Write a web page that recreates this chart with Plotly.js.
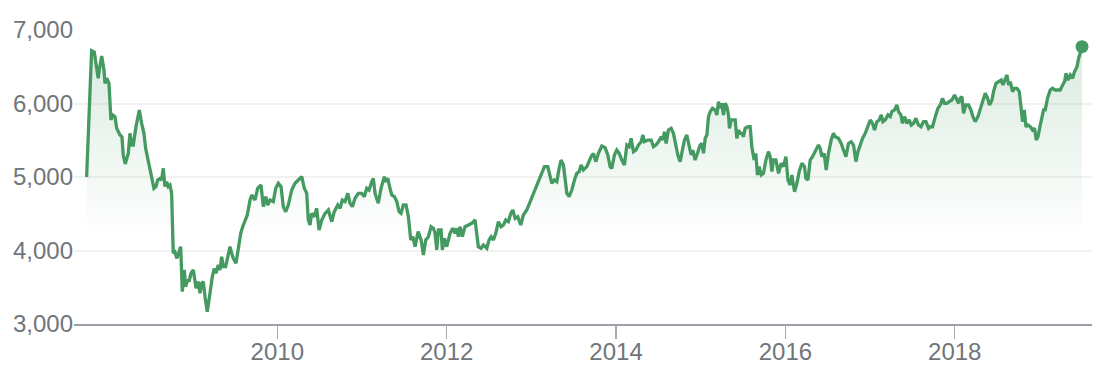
<!DOCTYPE html>
<html>
<head>
<meta charset="utf-8">
<script src="https://cdn.plot.ly/plotly-3.0.1.min.js"></script>
<style>
  html, body { margin: 0; padding: 0; background: #ffffff; }
  #chart { width: 1114px; height: 382px; }
</style>
</head>
<body>
<div id="chart"></div>
<script>
// Time as decimal years, index level values
const years = [
2007.748,2007.807,2007.838,2007.885,2007.897,2007.926,2007.953,2007.965,2007.985,2008.012,
2008.035,2008.056,2008.083,2008.103,2008.142,2008.165,2008.181,2008.204,2008.240,2008.260,
2008.280,2008.299,2008.331,2008.370,2008.398,2008.425,2008.445,2008.464,2008.496,2008.528,
2008.543,2008.567,2008.587,2008.614,2008.634,2008.653,2008.673,2008.693,2008.712,2008.732,
2008.752,2008.771,2008.791,2008.812,2008.839,2008.859,2008.878,2008.901,2008.918,2008.937,
2008.957,2008.981,2009.008,2009.040,2009.067,2009.087,2009.107,2009.126,2009.146,2009.173,
2009.205,2009.232,2009.256,2009.276,2009.303,2009.323,2009.343,2009.362,2009.390,2009.421,
2009.441,2009.461,2009.480,2009.512,2009.539,2009.568,2009.591,2009.618,2009.645,2009.678,
2009.698,2009.737,2009.768,2009.807,2009.835,2009.863,2009.887,2009.914,2009.953,2009.981,
2010.012,2010.044,2010.071,2010.099,2010.130,2010.170,2010.209,2010.248,2010.288,2010.319,
2010.347,2010.366,2010.386,2010.406,2010.437,2010.465,2010.493,2010.525,2010.564,2010.603,
2010.643,2010.673,2010.714,2010.741,2010.768,2010.800,2010.832,2010.859,2010.886,2010.918,
2010.957,2010.997,2011.028,2011.056,2011.083,2011.115,2011.134,2011.154,2011.193,2011.225,
2011.264,2011.281,2011.304,2011.331,2011.351,2011.382,2011.411,2011.438,2011.461,2011.488,
2011.520,2011.548,2011.576,2011.600,2011.627,2011.663,2011.698,2011.725,2011.753,2011.784,
2011.816,2011.843,2011.863,2011.883,2011.902,2011.934,2011.949,2011.973,2012.001,2012.040,
2012.072,2012.099,2012.119,2012.138,2012.158,2012.185,2012.217,2012.256,2012.297,2012.335,
2012.356,2012.374,2012.406,2012.434,2012.474,2012.501,2012.525,2012.552,2012.580,2012.611,
2012.643,2012.670,2012.698,2012.729,2012.757,2012.781,2012.808,2012.840,2012.875,2012.906,
2012.946,2012.985,2013.012,2013.053,2013.083,2013.124,2013.154,2013.194,2013.222,2013.242,
2013.272,2013.301,2013.328,2013.351,2013.379,2013.399,2013.419,2013.446,2013.478,2013.509,
2013.537,2013.564,2013.588,2013.615,2013.655,2013.706,2013.733,2013.761,2013.792,2013.832,
2013.871,2013.903,2013.930,2013.950,2013.981,2014.009,2014.037,2014.069,2014.099,2014.128,
2014.155,2014.178,2014.206,2014.234,2014.265,2014.297,2014.317,2014.336,2014.376,2014.415,
2014.442,2014.470,2014.501,2014.533,2014.553,2014.572,2014.592,2014.619,2014.651,2014.678,
2014.706,2014.730,2014.757,2014.784,2014.808,2014.836,2014.855,2014.887,2014.907,2014.934,
2014.962,2014.994,2015.014,2015.033,2015.053,2015.073,2015.092,2015.112,2015.139,2015.171,
2015.191,2015.210,2015.230,2015.250,2015.269,2015.289,2015.309,2015.328,2015.340,2015.360,
2015.380,2015.407,2015.427,2015.446,2015.466,2015.486,2015.505,2015.525,2015.557,2015.584,
2015.604,2015.631,2015.651,2015.670,2015.690,2015.714,2015.741,2015.770,2015.800,2015.820,
2015.841,2015.859,2015.888,2015.919,2015.950,2015.978,2016.006,2016.030,2016.057,2016.077,
2016.108,2016.136,2016.163,2016.195,2016.226,2016.242,2016.266,2016.293,2016.320,2016.352,
2016.391,2016.411,2016.431,2016.458,2016.482,2016.509,2016.541,2016.568,2016.588,2016.627,
2016.659,2016.686,2016.715,2016.745,2016.777,2016.805,2016.833,2016.857,2016.884,2016.911,
2016.943,2016.975,2017.002,2017.029,2017.053,2017.081,2017.108,2017.132,2017.152,2017.179,
2017.211,2017.238,2017.258,2017.289,2017.317,2017.336,2017.364,2017.383,2017.407,2017.435,
2017.463,2017.486,2017.513,2017.542,2017.572,2017.601,2017.631,2017.660,2017.691,2017.711,
2017.738,2017.770,2017.802,2017.829,2017.856,2017.880,2017.908,2017.935,2017.967,2017.998,
2018.026,2018.045,2018.065,2018.085,2018.104,2018.132,2018.163,2018.191,2018.215,2018.242,
2018.274,2018.301,2018.328,2018.360,2018.388,2018.411,2018.440,2018.458,2018.487,2018.517,
2018.549,2018.569,2018.597,2018.617,2018.636,2018.656,2018.683,2018.706,2018.735,2018.762,
2018.782,2018.801,2018.821,2018.841,2018.865,2018.892,2018.919,2018.943,2018.963,2018.983,
2019.010,2019.030,2019.049,2019.069,2019.096,2019.128,2019.155,2019.187,2019.219,2019.246,
2019.274,2019.297,2019.314,2019.337,2019.364,2019.392,2019.415,2019.444,2019.463,2019.483,
2019.503
];
const values = [
5000,6718,6700,6343,6456,6646,6456,6274,6343,6274,
5776,5844,5821,5662,5571,5548,5299,5177,5322,5594,
5435,5435,5684,5912,5730,5594,5390,5276,5095,4936,
4846,4870,4959,4980,4959,5118,4870,4936,4870,4890,
4778,3962,3980,3893,4007,4052,3440,3735,3508,3599,
3576,3690,3735,3486,3576,3418,3554,3576,3371,3167,
3418,3644,3758,3690,3803,3735,3916,3780,3780,3939,
4052,3962,3893,3826,4052,4234,4324,4400,4480,4687,
4755,4687,4846,4891,4596,4733,4619,4687,4665,4846,
4914,4868,4596,4528,4619,4823,4914,4959,5005,4846,
4778,4415,4347,4505,4460,4574,4279,4415,4505,4551,
4392,4528,4619,4574,4687,4665,4778,4642,4596,4710,
4778,4778,4733,4846,4823,4936,4980,4778,4642,4846,
5005,4936,4980,4846,4755,4733,4665,4528,4505,4619,
4619,4460,4143,4188,4052,4256,4143,3939,4143,4188,
4324,4302,4234,4007,4279,4279,4007,4166,4052,4234,
4302,4234,4302,4188,4324,4188,4324,4347,4370,4415,
4234,4052,4030,4075,4030,4143,4188,4143,4234,4392,
4324,4347,4415,4392,4505,4551,4437,4460,4347,4483,
4551,4665,4733,4846,4959,5050,5141,5141,4980,4914,
4959,4936,5118,5231,5163,4959,4778,4733,4823,4959,
5050,5073,5163,5095,5141,5277,5322,5209,5322,5422,
5400,5299,5141,5118,5299,5367,5322,5231,5163,5435,
5412,5526,5345,5367,5435,5480,5571,5480,5503,5503,
5412,5435,5480,5548,5503,5616,5457,5639,5662,5594,
5412,5299,5209,5345,5503,5571,5457,5299,5367,5231,
5322,5435,5457,5322,5526,5571,5821,5889,5935,5912,
5844,6025,5935,6003,5844,6003,5957,5844,5662,5776,
5776,5776,5526,5639,5594,5594,5548,5662,5684,5684,
5412,5231,5322,5027,5141,5027,5050,5231,5345,5277,
5073,5231,5231,5050,5186,5141,5277,4959,4891,5027,
4800,4914,5073,5186,5141,4980,4959,5231,5277,5345,
5435,5390,5277,5322,5095,5322,5503,5594,5548,5526,
5457,5367,5277,5457,5480,5435,5209,5345,5435,5526,
5594,5684,5776,5730,5639,5753,5776,5844,5753,5776,
5844,5821,5889,5912,5980,5889,5844,5730,5821,5730,
5776,5707,5730,5798,5707,5684,5753,5753,5662,5684,
5684,5821,5935,5980,6071,6003,6003,6025,6048,6116,
6048,6003,6071,6093,5866,5980,5980,5912,5821,5753,
5821,5912,6025,6139,6071,5980,6048,6161,6275,6297,
6320,6252,6320,6388,6252,6297,6161,6207,6207,6161,
5957,5753,5912,5684,5707,5684,5639,5662,5503,5548,
5707,5844,5912,5912,6071,6184,6207,6184,6184,6184,
6252,6297,6411,6320,6388,6343,6434,6501,6615,6705,
6773
];
const xTickVals = [2010, 2012, 2014, 2016, 2018];
const xTickText = ['2010', '2012', '2014', '2016', '2018'];
const yTickVals = [3000, 4000, 5000, 6000, 7000];
const yTickText = ['3,000', '4,000', '5,000', '6,000', '7,000'];

const green = 'rgb(68,154,96)';
const lastX = years[years.length - 1];
const lastY = values[values.length - 1];

const traces = [
  {
    type: 'scatter', mode: 'lines', x: years, y: values,
    line: { color: green, width: 3.3, shape: 'linear' },
    fill: 'tozeroy',
    fillgradient: {
      type: 'vertical', start: 4150, stop: 6800,
      colorscale: [[0, 'rgba(68,154,96,0)'], [1, 'rgba(68,154,96,0.2)']]
    },
    hoverinfo: 'skip', showlegend: false
  },
  {
    type: 'scatter', mode: 'markers', x: [lastX], y: [lastY],
    marker: { color: green, size: 13 },
    cliponaxis: false, hoverinfo: 'skip', showlegend: false
  }
];

const font = { family: 'Arial, "Liberation Sans", Helvetica, sans-serif', size: 24, color: '#70757a' };

const layout = {
  width: 1114, height: 382,
  margin: { l: 74, r: 22, t: 30, b: 58, pad: 0 },
  paper_bgcolor: '#ffffff', plot_bgcolor: '#ffffff',
  font: font,
  showlegend: false,
  xaxis: {
    type: 'linear', range: [2007.599, 2019.621],
    tickmode: 'array', tickvals: xTickVals, ticktext: xTickText,
    showgrid: false, zeroline: false,
    showline: true, linecolor: '#9aa0a6', linewidth: 2,
    ticks: 'outside', ticklen: 13, tickwidth: 1.5, tickcolor: '#a8acb0',
    ticklabelstandoff: -8,
    tickfont: font, fixedrange: true
  },
  yaxis: {
    range: [3000, 7000],
    tickmode: 'array', tickvals: yTickVals, ticktext: yTickText,
    showgrid: true, gridcolor: '#f1f1f1', gridwidth: 2,
    zeroline: false, showline: false, ticks: '',
    tickfont: font, fixedrange: true
  }
};

Plotly.newPlot('chart', traces, layout, { displayModeBar: false, staticPlot: true });
</script>
</body>
</html>
